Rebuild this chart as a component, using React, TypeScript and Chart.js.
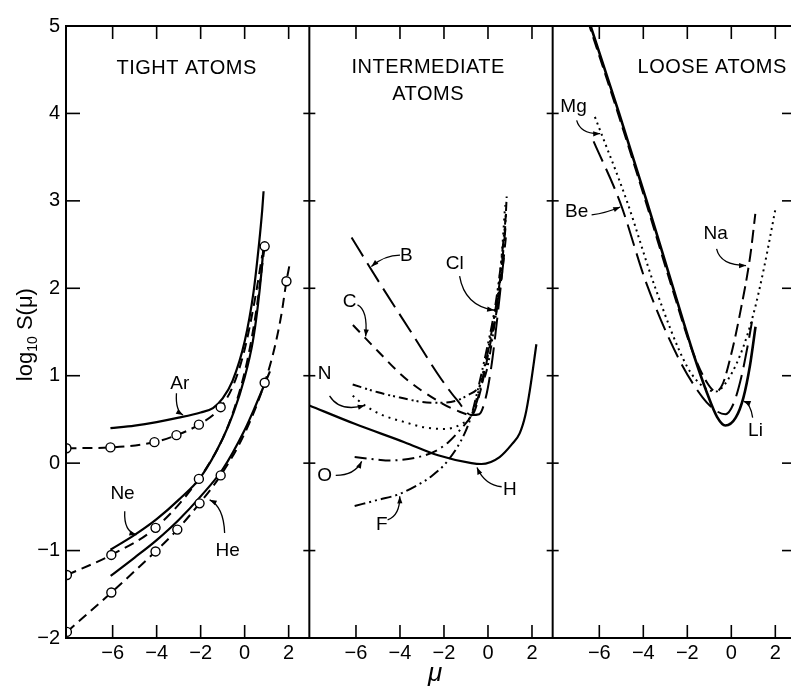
import React, { useEffect, useRef } from 'react';
import { Chart, registerables } from 'chart.js';
Chart.register(...registerables);

const FONT = '"Liberation Sans", Arial, Helvetica, sans-serif';
const X_MIN = -8.12;
const X_MAX = 2.94;
const Y_MIN = -2;
const Y_MAX = 5;
const xTickValues = [-6, -4, -2, 0, 2];
const yTickValues = [-2, -1, 0, 1, 2, 3, 4, 5];

// ---------- TIGHT ATOMS ----------
const arSolidMu = [-6.1, -5, -4, -3, -2, -1.44, -1, -0.55, 0, 0.4, 0.65, 0.8, 0.86];
const arSolidS = [0.4, 0.43, 0.47, 0.52, 0.58, 0.63, 0.74, 0.94, 1.39, 1.95, 2.5, 2.9, 3.11];
const arDashMu = [-8.1, -6.1, -4.1, -3.1, -2.08, -1.09, -0.5, 0, 0.45, 0.8];
const arDashS = [0.17, 0.18, 0.24, 0.32, 0.44, 0.64, 0.9, 1.3, 1.85, 2.38];
const arCircleMu = [-8.1, -6.1, -4.1, -3.1, -2.08, -1.09];
const arCircleS = [0.17, 0.18, 0.24, 0.32, 0.44, 0.64];

const neSolidMu = [-6.1, -5, -4, -3, -2, -1, -0.5, 0, 0.37, 0.6, 0.75, 0.85];
const neSolidS = [-0.99, -0.82, -0.64, -0.42, -0.16, 0.28, 0.58, 0.98, 1.39, 1.8, 2.15, 2.45];
const neDashMu = [-8.08, -6.06, -4.05, -2.08, -1, -0.4, 0.1, 0.5, 0.91];
const neDashS = [-1.28, -1.05, -0.74, -0.18, 0.28, 0.68, 1.15, 1.7, 2.48];
const neCircleMu = [-8.08, -6.06, -4.05, -2.08, 0.91];
const neCircleS = [-1.28, -1.05, -0.74, -0.18, 2.48];

const heSolidMu = [-6.09, -5, -4, -3, -2, -1, 0, 0.5, 1.15];
const heSolidS = [-1.29, -1.08, -0.88, -0.65, -0.38, -0.07, 0.38, 0.66, 1.05];
const heDashMu = [-8.08, -6.06, -4.05, -3.06, -2.05, -1.09, 0, 0.91, 1.36, 1.67, 1.9, 2.05];
const heDashS = [-1.93, -1.48, -1.01, -0.76, -0.46, -0.14, 0.34, 0.92, 1.32, 1.7, 2.08, 2.28];
const heCircleMu = [-8.08, -6.06, -4.05, -3.06, -2.05, -1.09, 0.91, 1.9];
const heCircleS = [-1.93, -1.48, -1.01, -0.76, -0.46, -0.14, 0.92, 2.08];

// ---------- INTERMEDIATE ATOMS ----------
const hMu = [-8.12, -6.06, -3.8, -2.27, -0.75, -0.3, 0.53, 1.1, 1.44, 1.7, 1.9, 2.2];
const hS = [0.66, 0.45, 0.24, 0.09, 0.0, -0.01, 0.07, 0.22, 0.34, 0.55, 0.83, 1.36];
const bMu = [-6.2, -4.9, -3.6, -2.12, -1.4, -0.75, -0.4, -0.1, 0.15, 0.35, 0.55, 0.72];
const bS = [2.58, 2.05, 1.54, 0.96, 0.72, 0.55, 0.56, 0.75, 1.1, 1.5, 1.95, 2.35];
const cMu = [-6.14, -5, -3.8, -2.27, -1.4, -0.75, -0.35, 0.05, 0.4, 0.65, 0.82];
const cS = [1.58, 1.28, 0.98, 0.71, 0.6, 0.55, 0.82, 1.3, 1.75, 2.2, 2.6];
const nMu = [-6.15, -5.6, -4.8, -3.8, -2.9, -1.97, -1.2, -0.75, -0.4, 0, 0.35, 0.6, 0.78];
const nS = [0.77, 0.66, 0.55, 0.47, 0.41, 0.39, 0.45, 0.55, 0.85, 1.3, 1.8, 2.3, 2.95];
const oMu = [-6.06, -5, -4.5, -3, -2.3, -1.8, -1.2, -0.75, -0.45, -0.1, 0.3, 0.6, 0.8];
const oS = [0.07, 0.04, 0.03, 0.08, 0.15, 0.24, 0.4, 0.55, 0.75, 1.15, 1.7, 2.2, 2.7];
const fMu = [-6.06, -5, -4.1, -3.2, -2.57, -1.82, -1.06, -0.75, -0.5, -0.1, 0.3, 0.6, 0.82];
const fS = [-0.49, -0.42, -0.36, -0.25, -0.15, 0.03, 0.34, 0.55, 0.8, 1.25, 1.75, 2.3, 2.85];
const clMu = [-6.15, -5, -4, -3, -2.27, -1.5, -0.9, -0.45, -0.07, 0.3, 0.6, 0.78, 0.85];
const clS = [0.9, 0.81, 0.75, 0.7, 0.69, 0.71, 0.78, 0.86, 1.05, 1.6, 2.2, 2.7, 3.05];

// ---------- LOOSE ATOMS ----------
const liMu = [-6.5, -5.1, -3.85, -2.7, -1.71, -1.1, -0.65, -0.27, 0.2, 0.55, 0.85, 1.1];
const liS = [5.08, 4.0, 3.0, 2.05, 1.24, 0.8, 0.53, 0.43, 0.52, 0.75, 1.12, 1.56];
const naMu = [-6.55, -5.15, -3.9, -2.75, -1.75, -1.1, -0.7, -0.4, 0, 0.41, 0.86, 1.09];
const naS = [5.08, 4.0, 3.0, 2.05, 1.27, 0.92, 0.82, 0.9, 1.25, 1.73, 2.37, 2.85];
const mgMu = [-6.2, -4.75, -3.45, -2.0, -1.2, -0.7, -0.3, 0.41, 1.0, 1.5, 2.0];
const mgS = [3.96, 3.0, 2.0, 1.1, 0.86, 0.82, 0.9, 1.24, 1.7, 2.25, 2.9];
const beMu = [-6.26, -5.05, -3.85, -2.4, -1.3, -0.7, -0.27, 0.1, 0.45, 0.75, 0.94];
const beS = [3.68, 2.98, 2.05, 1.2, 0.75, 0.6, 0.56, 0.68, 0.98, 1.35, 1.62];

const zip = (xs: number[], ys: number[]) => xs.map((x, i) => ({ x, y: ys[i] }));

type Curve = { axis: string; mu: number[]; s: number[]; dash: number[]; width: number };
const curves: Curve[] = [
  { axis: 'x1', mu: arSolidMu, s: arSolidS, dash: [], width: 2.2 },
  { axis: 'x1', mu: arDashMu, s: arDashS, dash: [10, 6], width: 2 },
  { axis: 'x1', mu: neSolidMu, s: neSolidS, dash: [], width: 2.2 },
  { axis: 'x1', mu: neDashMu, s: neDashS, dash: [10, 6], width: 2 },
  { axis: 'x1', mu: heSolidMu, s: heSolidS, dash: [], width: 2.2 },
  { axis: 'x1', mu: heDashMu, s: heDashS, dash: [10, 6], width: 2 },
  { axis: 'x2', mu: hMu, s: hS, dash: [], width: 2.2 },
  { axis: 'x2', mu: bMu, s: bS, dash: [22, 8], width: 2 },
  { axis: 'x2', mu: cMu, s: cS, dash: [10, 7], width: 2 },
  { axis: 'x2', mu: nMu, s: nS, dash: [2, 5], width: 2 },
  { axis: 'x2', mu: oMu, s: oS, dash: [12, 5, 2, 5], width: 2 },
  { axis: 'x2', mu: fMu, s: fS, dash: [11, 4, 2, 4, 2, 4], width: 2 },
  { axis: 'x2', mu: clMu, s: clS, dash: [9, 4, 2, 3, 2, 4], width: 2 },
  { axis: 'x3', mu: liMu, s: liS, dash: [], width: 2.6 },
  { axis: 'x3', mu: naMu, s: naS, dash: [13, 6], width: 2 },
  { axis: 'x3', mu: mgMu, s: mgS, dash: [2, 4], width: 2 },
  { axis: 'x3', mu: beMu, s: beS, dash: [22, 8], width: 2 },
];
const markerSets = [
  { axis: 'x1', mu: arCircleMu, s: arCircleS },
  { axis: 'x1', mu: neCircleMu, s: neCircleS },
  { axis: 'x1', mu: heCircleMu, s: heCircleS },
];

const panelTitles = [
  { axis: 'x1', lines: ['TIGHT ATOMS'], mu: -2.64, s: 4.51 },
  { axis: 'x2', lines: ['INTERMEDIATE', 'ATOMS'], mu: -2.72, s: 4.53 },
  { axis: 'x3', lines: ['LOOSE ATOMS'], mu: -0.87, s: 4.53 },
];
const atomLabels = [
  { axis: 'x1', text: 'Ar', mu: -2.95, s: 0.91 },
  { axis: 'x1', text: 'Ne', mu: -5.55, s: -0.35 },
  { axis: 'x1', text: 'He', mu: -0.77, s: -1.0 },
  { axis: 'x2', text: 'B', mu: -3.71, s: 2.37 },
  { axis: 'x2', text: 'C', mu: -6.29, s: 1.85 },
  { axis: 'x2', text: 'Cl', mu: -1.51, s: 2.28 },
  { axis: 'x2', text: 'N', mu: -7.42, s: 1.02 },
  { axis: 'x2', text: 'O', mu: -7.42, s: -0.14 },
  { axis: 'x2', text: 'F', mu: -4.83, s: -0.7 },
  { axis: 'x2', text: 'H', mu: 0.99, s: -0.31 },
  { axis: 'x3', text: 'Mg', mu: -7.17, s: 4.08 },
  { axis: 'x3', text: 'Be', mu: -7.03, s: 2.87 },
  { axis: 'x3', text: 'Na', mu: -0.71, s: 2.62 },
  { axis: 'x3', text: 'Li', mu: 1.1, s: 0.37 },
];
// arrows: start, control, end (data coordinates)
const arrows = [
  { axis: 'x1', p: [-3.1, 0.8, -3.15, 0.6, -2.8, 0.55] },
  { axis: 'x1', p: [-5.45, -0.55, -5.5, -0.78, -4.92, -0.82] },
  { axis: 'x1', p: [-0.91, -0.8, -0.95, -0.5, -1.59, -0.42] },
  { axis: 'x2', p: [-4.0, 2.38, -4.7, 2.38, -5.3, 2.25] },
  { axis: 'x2', p: [-5.93, 1.81, -5.45, 1.75, -5.56, 1.45] },
  { axis: 'x2', p: [-1.29, 2.14, -1.06, 1.8, 0.28, 1.75] },
  { axis: 'x2', p: [-7.2, 0.77, -6.74, 0.58, -5.6, 0.66] },
  { axis: 'x2', p: [-6.92, -0.14, -6.06, -0.14, -5.74, 0.02] },
  { axis: 'x2', p: [-4.56, -0.65, -4.0, -0.6, -4.01, -0.38] },
  { axis: 'x2', p: [0.62, -0.27, -0.15, -0.25, -0.5, -0.05] },
  { axis: 'x3', p: [-7.03, 3.92, -6.85, 3.76, -5.96, 3.77] },
  { axis: 'x3', p: [-6.35, 2.84, -5.7, 2.86, -5.05, 2.93] },
  { axis: 'x3', p: [-0.67, 2.45, -0.49, 2.26, 0.67, 2.26] },
  { axis: 'x3', p: [0.97, 0.52, 0.88, 0.68, 0.56, 0.71] },
];

const fmt = (v: number) => (v < 0 ? '\u2212' + Math.abs(v) : String(v));

const decorPlugin = {
  id: 'decor',
  afterDatasetsDraw(chart: any) {
    const { ctx, chartArea: a, scales } = chart;
    const ys = scales.y;
    ctx.save();
    ctx.strokeStyle = '#000';
    ctx.fillStyle = '#000';
    const line = (x1: number, y1: number, x2: number, y2: number) => {
      ctx.beginPath();
      ctx.moveTo(x1, y1);
      ctx.lineTo(x2, y2);
      ctx.stroke();
    };
    // frames
    ctx.lineWidth = 2;
    ctx.strokeRect(a.left, a.top, a.right - a.left, a.bottom - a.top);
    const dividers = [scales.x1.right, scales.x2.right];
    dividers.forEach((d: number) => line(d, a.top, d, a.bottom));
    // ticks
    ctx.lineWidth = 1.6;
    ['x1', 'x2', 'x3'].forEach((id) => {
      const sc = scales[id];
      xTickValues.forEach((v) => {
        const px = sc.getPixelForValue(v);
        line(px, a.bottom, px, a.bottom - 13);
        line(px, a.top, px, a.top + 13);
      });
    });
    yTickValues.slice(1, -1).forEach((v) => {
      const py = ys.getPixelForValue(v);
      line(a.left, py, a.left + 14, py);
      dividers.forEach((d: number) => line(d - 6, py, d + 6, py));
      line(a.right - 14, py, a.right, py);
    });
    // panel titles
    ctx.textAlign = 'center';
    ctx.textBaseline = 'middle';
    ctx.font = `20px ${FONT}`;
    (ctx as any).letterSpacing = '0.5px';
    panelTitles.forEach((t) => {
      const px = scales[t.axis].getPixelForValue(t.mu);
      const py = ys.getPixelForValue(t.s);
      t.lines.forEach((ln, i) => ctx.fillText(ln, px, py + i * 27));
    });
    (ctx as any).letterSpacing = '0px';
    // atom labels
    ctx.font = `19px ${FONT}`;
    atomLabels.forEach((l) => {
      ctx.fillText(l.text, scales[l.axis].getPixelForValue(l.mu), ys.getPixelForValue(l.s));
    });
    // arrows
    ctx.lineWidth = 1.3;
    arrows.forEach((ar) => {
      const sc = scales[ar.axis];
      const [sx, sy, cx, cy, ex, ey] = ar.p;
      const x0 = sc.getPixelForValue(sx), y0 = ys.getPixelForValue(sy);
      const x1 = sc.getPixelForValue(cx), y1 = ys.getPixelForValue(cy);
      const x2 = sc.getPixelForValue(ex), y2 = ys.getPixelForValue(ey);
      ctx.beginPath();
      ctx.moveTo(x0, y0);
      ctx.quadraticCurveTo(x1, y1, x2, y2);
      ctx.stroke();
      const ang = Math.atan2(y2 - y1, x2 - x1);
      const L = 7, W = 2.6;
      ctx.beginPath();
      ctx.moveTo(x2, y2);
      ctx.lineTo(x2 - L * Math.cos(ang) + W * Math.sin(ang), y2 - L * Math.sin(ang) - W * Math.cos(ang));
      ctx.lineTo(x2 - L * Math.cos(ang) - W * Math.sin(ang), y2 - L * Math.sin(ang) + W * Math.cos(ang));
      ctx.closePath();
      ctx.fill();
    });
    // y-axis title: log10 S(mu), rotated
    ctx.save();
    ctx.translate(24, ys.getPixelForValue(1.47));
    ctx.rotate(-Math.PI / 2);
    ctx.textAlign = 'left';
    ctx.textBaseline = 'alphabetic';
    const big = `22px ${FONT}`;
    const small = `14px ${FONT}`;
    ctx.font = big;
    const w1 = ctx.measureText('log').width;
    const w3 = ctx.measureText(' S(\u03bc)').width;
    ctx.font = small;
    const w2 = ctx.measureText('10').width;
    let x = -(w1 + w2 + w3) / 2;
    ctx.font = big;
    ctx.fillText('log', x, 0);
    x += w1;
    ctx.font = small;
    ctx.fillText('10', x, 5);
    x += w2;
    ctx.font = big;
    ctx.fillText(' S(\u03bc)', x, 0);
    ctx.restore();
    // x-axis title
    ctx.font = `italic 26px ${FONT}`;
    ctx.textAlign = 'center';
    ctx.textBaseline = 'alphabetic';
    ctx.fillText('\u03bc', scales.x2.getPixelForValue(-2.4), a.bottom + 43);
    ctx.restore();
  },
};

function xAxis() {
  return {
    type: 'linear',
    position: 'bottom',
    stack: 'mu',
    stackWeight: 1,
    min: X_MIN,
    max: X_MAX,
    afterBuildTicks: (s: any) => {
      s.ticks = xTickValues.map((v) => ({ value: v }));
    },
    afterFit: (s: any) => {
      s.height = 52;
    },
    grid: { display: false, drawTicks: false },
    border: { display: false },
    ticks: {
      color: '#000',
      padding: 3,
      maxRotation: 0,
      autoSkip: false,
      font: { family: FONT, size: 20 },
      callback: (v: any) => fmt(Number(v)),
    },
  };
}

export default function App() {
  const ref = useRef<HTMLCanvasElement | null>(null);
  useEffect(() => {
    if (!ref.current) return;
    const datasets: any[] = [];
    markerSets.forEach((m) => {
      datasets.push({
        data: zip(m.mu, m.s),
        xAxisID: m.axis,
        yAxisID: 'y',
        showLine: false,
        pointRadius: 4.5,
        pointBackgroundColor: '#fff',
        pointBorderColor: '#000',
        pointBorderWidth: 1.4,
        order: 0,
      });
    });
    curves.forEach((c) => {
      datasets.push({
        data: zip(c.mu, c.s),
        xAxisID: c.axis,
        yAxisID: 'y',
        showLine: true,
        borderColor: '#000',
        borderWidth: c.width,
        borderDash: c.dash,
        pointRadius: 0,
        cubicInterpolationMode: 'monotone',
        fill: false,
        order: 1,
      });
    });
    const chart = new Chart(ref.current, {
      type: 'scatter',
      data: { datasets },
      options: {
        animation: false,
        responsive: false,
        devicePixelRatio: 1,
        layout: { padding: { top: 12, right: 12, left: 0, bottom: 0 } },
        plugins: { legend: { display: false }, tooltip: { enabled: false } },
        scales: {
          x1: xAxis(),
          x2: xAxis(),
          x3: xAxis(),
          y: {
            type: 'linear',
            position: 'left',
            min: Y_MIN,
            max: Y_MAX,
            afterBuildTicks: (s: any) => {
              s.ticks = yTickValues.map((v) => ({ value: v }));
            },
            afterFit: (s: any) => {
              s.width = 58;
            },
            grid: { display: false, drawTicks: false },
            border: { display: false },
            ticks: {
              color: '#000',
              padding: 6,
              font: { family: FONT, size: 20 },
              callback: (v: any) => fmt(Number(v)),
            },
          },
        },
      } as any,
      plugins: [decorPlugin],
    });
    return () => chart.destroy();
  }, []);
  return (
    <div style={{ height: 1 }}>
      <canvas
        ref={ref}
        width={800}
        height={682}
        style={{ position: 'fixed', left: 8, top: 8, width: 800, height: 682, background: '#fff' }}
      />
    </div>
  );
}
